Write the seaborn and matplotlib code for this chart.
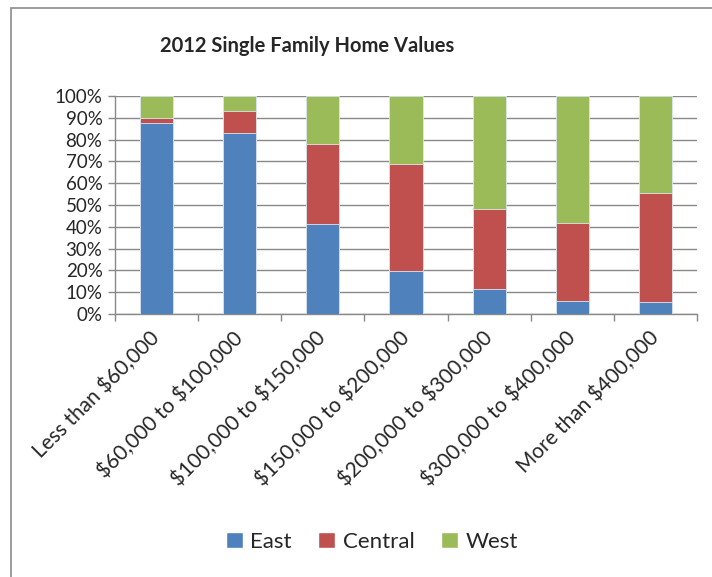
import numpy as np
import pandas as pd
import seaborn as sns
import matplotlib.pyplot as plt
from matplotlib.patches import Rectangle, Patch
from matplotlib.ticker import FixedLocator, PercentFormatter

# values (percent of homes in each price band)
price_bands = ['Less than $60,000', '$60,000 to $100,000', '$100,000 to $150,000',
               '$150,000 to $200,000', '$200,000 to $300,000', '$300,000 to $400,000',
               'More than $400,000']
east = [87.7, 83.1, 41.4, 19.6, 11.5, 6.0, 5.4]
central = [2.2, 10.2, 36.7, 49.3, 36.7, 35.7, 50.3]
west = [10.1, 6.7, 21.9, 31.1, 51.8, 58.3, 44.3]

regions = ['East', 'Central', 'West']
colors = {'East': '#4F81BD', 'Central': '#C0504D', 'West': '#9BBB59'}

df = pd.DataFrame({'band': price_bands, 'East': east, 'Central': central, 'West': west})
# stacked via cumulative totals, drawn from the top segment down
df['top_West'] = df['East'] + df['Central'] + df['West']
df['top_Central'] = df['East'] + df['Central']
df['top_East'] = df['East']

sns.set_style('white')
plt.rcParams['font.family'] = ['Lato', 'DejaVu Sans']
plt.rcParams['text.parse_math'] = False

fig = plt.figure(figsize=(7.12, 5.77), dpi=100)
ax = fig.add_axes([115 / 712, 1 - 314 / 577, (697 - 115) / 712, (314 - 96) / 577])

for r in ['West', 'Central', 'East']:
    sns.barplot(data=df, x='band', y='top_' + r, color=colors[r], width=0.4,
                edgecolor='#dce6f0', linewidth=0.6, saturation=1, ax=ax, zorder=3)

ax.set_ylim(0, 100)
ax.set_xlim(-0.5, len(price_bands) - 0.5)
ax.yaxis.set_major_locator(FixedLocator(np.arange(0, 101, 10)))
ax.yaxis.set_major_formatter(PercentFormatter(decimals=0))
ax.grid(axis='y', color='#898989', linewidth=1.0, zorder=0)
ax.set_axisbelow(True)
ax.set_xlabel('')
ax.set_ylabel('')

for s in ['top', 'right']:
    ax.spines[s].set_visible(False)
for s in ['left', 'bottom']:
    ax.spines[s].set_color('#898989')
    ax.spines[s].set_linewidth(1.0)

ax.tick_params(axis='y', length=5, width=1, color='#898989', direction='out',
               labelsize=13.5, pad=4, left=True)
ax.tick_params(axis='x', which='major', length=0, labelsize=15, pad=15)
ax.xaxis.set_minor_locator(FixedLocator(np.arange(-0.5, len(price_bands), 1.0)))
ax.tick_params(axis='x', which='minor', length=5, width=1, color='#898989',
               direction='out', bottom=True)
for lab in ax.get_xticklabels():
    lab.set_rotation(45)
    lab.set_ha('right')
    lab.set_va('center')
    lab.set_rotation_mode('anchor')

fig.text(307 / 712, 1 - 46 / 577, '2012 Single Family Home Values', ha='center', va='center',
         fontsize=14.5, fontweight='bold')

handles = [Patch(facecolor=colors[r], label=r) for r in regions]
fig.legend(handles=handles, loc='center', bbox_to_anchor=(372 / 712, 1 - 542 / 577), ncol=3,
           frameon=False, fontsize=16, handlelength=0.75, handleheight=0.75,
           handletextpad=0.35, columnspacing=1.2)

# chart area border (right and bottom edges fall outside the image)
fig.patches.append(Rectangle((11 / 712, -0.1), 2, 1 - 8 / 577 + 0.1, transform=fig.transFigure,
                             fill=False, edgecolor='#8c8c8c', linewidth=1.2))

fig.savefig('out.png', dpi=100)
